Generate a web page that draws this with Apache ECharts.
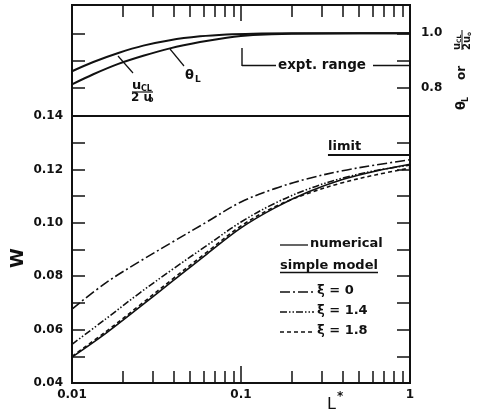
<!DOCTYPE html>
<html><head><meta charset="utf-8">
<script src="https://cdn.jsdelivr.net/npm/echarts@6/dist/echarts.min.js"></script>
<style>html,body{margin:0;padding:0;background:#fff}#c{width:482px;height:415px}</style>
</head><body><div id="c"></div>
<script>
// ---- data ----
const Lstar = [0.01, 0.01585, 0.02512, 0.03981, 0.0631, 0.1, 0.1585, 0.2512, 0.3981, 0.631, 1];
const W_numerical = [0.0497, 0.0586, 0.0684, 0.0784, 0.0884, 0.0981, 0.1056, 0.1116, 0.1162, 0.1194, 0.1219];
const W_xi0  = [0.0677, 0.0775, 0.0855, 0.0930, 0.1004, 0.1078, 0.1128, 0.1166, 0.1195, 0.1217, 0.1236];
const W_xi14 = [0.0545, 0.0640, 0.0737, 0.0828, 0.0916, 0.1003, 0.1073, 0.1127, 0.1167, 0.1196, 0.1216];
const W_xi18 = [0.0500, 0.0592, 0.0691, 0.0792, 0.0891, 0.0988, 0.1060, 0.1111, 0.1150, 0.1180, 0.1205];

const L_top = [0.01, 0.01337, 0.0188, 0.0264, 0.038, 0.0572, 0.0823, 0.118, 0.2, 0.5, 1];
const uCL_ratio = [0.861, 0.895, 0.928, 0.955, 0.975, 0.989, 0.996, 0.999, 1.0, 1.0, 1.0];
const thetaL    = [0.813, 0.850, 0.888, 0.918, 0.945, 0.968, 0.984, 0.994, 0.999, 1.0, 1.0];

const xMinorTicks = [0.02,0.03,0.04,0.05,0.06,0.07,0.08,0.09,0.2,0.3,0.4,0.5,0.6,0.7,0.8,0.9];
const xMajorTicks = [0.1];
const xLabels = [0.01, 0.1, 1];
const wTicks = [0.04,0.05,0.06,0.07,0.08,0.09,0.10,0.11,0.12,0.13,0.14];
const wLabels = [0.04,0.06,0.08,0.10,0.12,0.14];
const topTicks = [0.8, 0.9, 1.0];
const topLabels = [0.8, 1.0];
const limitW = 0.1255;
const limitFrom = 0.327;

// ---- chart ----
const INK = '#111';
const FONT = 'DejaVu Sans';
const chart = echarts.init(document.getElementById('c'), null, {renderer: 'canvas'});

function pairs(xs, ys) { return xs.map((x, i) => [x, ys[i]]); }

function xAxis(gridIndex, position, ticks, len, labels) {
  return {
    type: 'log', logBase: 10, min: 0.01, max: 1, gridIndex, position,
    axisLine: {show: false},
    splitLine: {show: false},
    axisTick: {show: true, inside: true, length: len, customValues: ticks,
               lineStyle: {color: INK, width: 1.5}},
    axisLabel: labels ? {show: true, customValues: labels, margin: 6,
               color: INK, fontFamily: FONT, fontWeight: 'bold', fontSize: 12,
               formatter: v => (v >= 1 ? '1' : (v >= 0.1 ? '0.1' : '0.01'))} : {show: false}
  };
}
function yAxis(gridIndex, position, min, max, ticks, labels, dec) {
  return {
    type: 'value', min, max, gridIndex, position,
    axisLine: {show: false},
    splitLine: {show: false},
    axisTick: {show: true, inside: true, length: 13, customValues: ticks,
               lineStyle: {color: INK, width: 1.5}},
    axisLabel: labels ? {show: true, customValues: labels, margin: position === 'left' ? 9 : 11,
               color: INK, fontFamily: FONT, fontWeight: 'bold', fontSize: 12,
               formatter: v => v.toFixed(dec)} : {show: false}
  };
}

function line(name, xs, ys, xi, yi, type, width) {
  return {
    name, type: 'line', xAxisIndex: xi, yAxisIndex: yi,
    data: pairs(xs, ys), showSymbol: false, smooth: 0.35,
    lineStyle: {color: INK, width: width, type: type},
    silent: true
  };
}

const T = (text, x, y, size, extra) => ({
  type: 'text', x, y,
  style: Object.assign({text, fill: INK, font: `bold ${size}px "${FONT}"`, textVerticalAlign: 'middle'}, extra || {})
});
const Ln = (x1, y1, x2, y2, w, dash) => ({
  type: 'line', shape: {x1, y1, x2, y2},
  style: {stroke: INK, lineWidth: w || 1.3, lineDash: dash || null}
});

const dashXi0 = [10, 3, 2, 3];
const dashXi14 = [7, 2, 1.5, 2, 1.5, 2];
const dashXi18 = [4, 3];

const option = {
  backgroundColor: '#fff',
  animation: false,
  grid: [
    {left: 72, right: 72, top: 5, height: 111, show: true, borderColor: INK, borderWidth: 2, backgroundColor: 'transparent'},
    {left: 72, right: 72, top: 116, height: 267, show: true, borderColor: INK, borderWidth: 2, backgroundColor: 'transparent'}
  ],
  xAxis: [
    xAxis(1, 'bottom', xMinorTicks, 12, xLabels),
    xAxis(1, 'bottom', xMajorTicks, 17, null),
    xAxis(0, 'top', xMinorTicks, 12, null),
    xAxis(0, 'top', xMajorTicks, 16, null)
  ],
  yAxis: [
    yAxis(1, 'left', 0.04, 0.14, wTicks, wLabels, 2),
    yAxis(1, 'right', 0.04, 0.14, wTicks, null, 2),
    yAxis(0, 'left', 0.697, 1.104, topTicks, null, 1),
    yAxis(0, 'right', 0.697, 1.104, topTicks, topLabels, 1)
  ],
  series: [
    line('numerical', Lstar, W_numerical, 0, 0, 'solid', 1.6),
    line('ξ = 0', Lstar, W_xi0, 0, 0, dashXi0, 1.6),
    line('ξ = 1.4', Lstar, W_xi14, 0, 0, dashXi14, 1.6),
    Object.assign(line('ξ = 1.8', Lstar, W_xi18, 0, 0, dashXi18, 1.6), {
      markLine: {silent: true, symbol: 'none', label: {show: false},
        lineStyle: {color: INK, width: 2, type: 'solid'},
        data: [[{coord: [limitFrom, limitW]}, {coord: [1, limitW]}]]}
    }),
    line('uCL/2u0', L_top, uCL_ratio, 2, 2, 'solid', 2),
    line('θL', L_top, thetaL, 2, 2, 'solid', 2)
  ],
  graphic: [
    // axis titles
    {type: 'text', x: 18, y: 258, rotation: Math.PI / 2,
     style: {text: 'W', fill: INK, font: `bold 18px "${FONT}"`, textAlign: 'center', textVerticalAlign: 'middle'}},
    {type: 'text', x: 327, y: 405, style: {text: 'L', fill: INK, font: `16px "${FONT}"`, textVerticalAlign: 'middle'}},
    {type: 'text', x: 337, y: 397, style: {text: '*', fill: INK, font: `bold 12px "${FONT}"`, textVerticalAlign: 'middle'}},
    // limit
    T('limit', 328, 147, 13),
    // legend
    Ln(280, 245, 308, 245, 1.3),
    T('numerical', 310, 244, 13),
    T('simple model', 280, 266, 13),
    Ln(280, 272.5, 378, 272.5, 1.3),
    Ln(280, 292, 314, 292, 1.3, dashXi0),
    T('ξ = 0', 317, 291, 13),
    Ln(280, 312, 314, 312, 1.3, dashXi14),
    T('ξ = 1.4', 317, 311, 13),
    Ln(280, 332, 314, 332, 1.3, dashXi18),
    T('ξ = 1.8', 317, 331, 13),
    // top panel annotations
    Ln(118, 56, 133, 73, 1.2),
    T('u', 132, 86, 13),
    T('CL', 141, 89, 8),
    Ln(132, 92, 153, 92, 1.2),
    T('2 u', 131, 98, 12),
    T('o', 148, 100, 8),
    Ln(170, 49, 184, 66, 1.2),
    T('θ', 185, 76, 13),
    T('L', 195, 80, 9),
    // expt range
    Ln(242, 48, 242, 66, 1.4),
    Ln(242, 65.5, 276, 65.5, 1.4),
    T('expt. range', 278, 65, 13.5),
    Ln(373, 65.5, 410, 65.5, 1.4),
    // right rotated label: θL or uCL/2u0
    {type: 'group', x: 462, y: 110, rotation: Math.PI / 2, children: [
      {type: 'text', x: 0, y: 0, style: {text: 'θ', fill: INK, font: `bold 13px "${FONT}"`, textVerticalAlign: 'middle'}},
      {type: 'text', x: 8, y: 4, style: {text: 'L', fill: INK, font: `bold 8px "${FONT}"`, textVerticalAlign: 'middle'}},
      {type: 'text', x: 30, y: 0, style: {text: 'or', fill: INK, font: `bold 12px "${FONT}"`, textVerticalAlign: 'middle'}},
      {type: 'text', x: 60, y: -5, style: {text: 'u', fill: INK, font: `bold 10px "${FONT}"`, textVerticalAlign: 'middle'}},
      {type: 'text', x: 67, y: -3, style: {text: 'CL', fill: INK, font: `bold 6px "${FONT}"`, textVerticalAlign: 'middle'}},
      {type: 'line', shape: {x1: 60, y1: 0, x2: 80, y2: 0}, style: {stroke: INK, lineWidth: 1}},
      {type: 'text', x: 60, y: 5, style: {text: '2u', fill: INK, font: `bold 10px "${FONT}"`, textVerticalAlign: 'middle'}},
      {type: 'text', x: 74, y: 7, style: {text: 'o', fill: INK, font: `bold 6px "${FONT}"`, textVerticalAlign: 'middle'}}
    ]}
  ]
};
chart.setOption(option);
</script>
</body></html>
